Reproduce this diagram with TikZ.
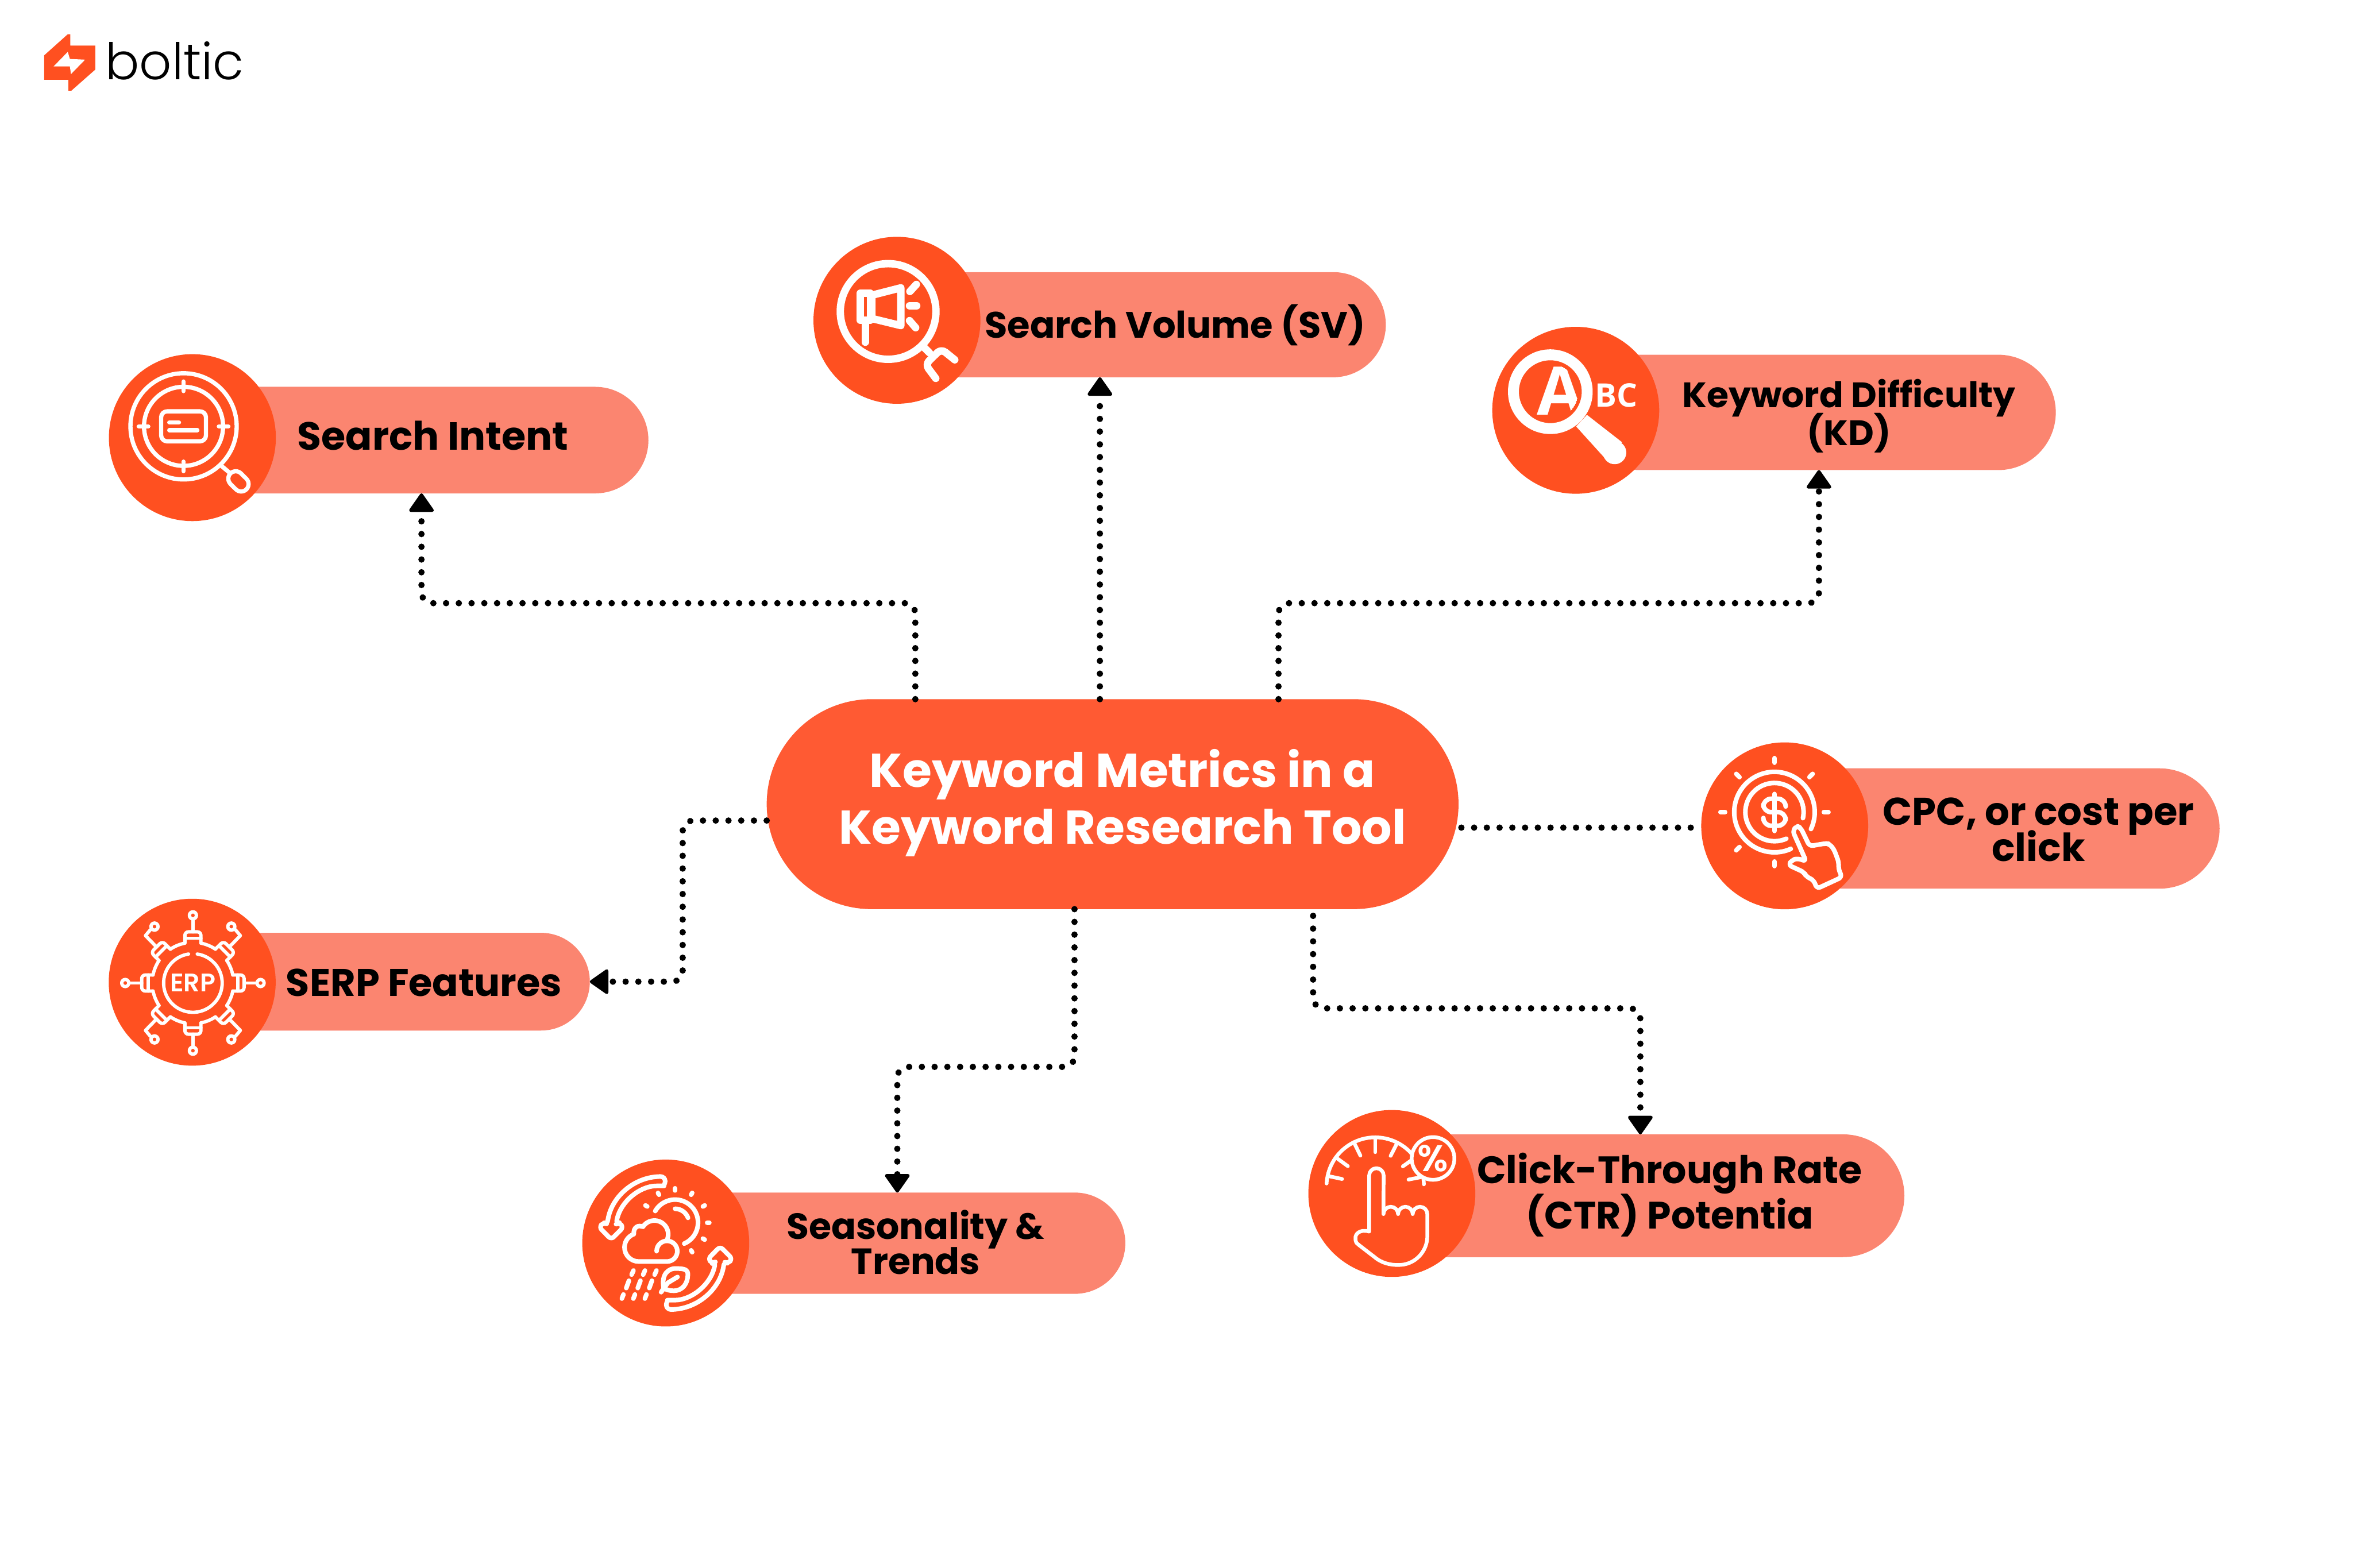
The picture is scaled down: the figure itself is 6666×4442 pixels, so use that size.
\documentclass[tikz,border=0pt]{standalone}
\usepackage{fontspec}
\setmainfont{Poppins}
\newfontfamily\logofont{Poppins Light}
\newfontfamily\erpfont{Poppins SemiBold}
\newfontfamily\abcfont{Open Sans}
\usetikzlibrary{arrows.meta,shapes.misc}
\definecolor{DiscRed}{HTML}{FF5020}
\definecolor{PillRed}{HTML}{FB8570}
\definecolor{HubRed}{HTML}{FF5A33}
\newcommand{\CapFont}[2]{\bfseries\fontsize{#1}{#2}\selectfont\lineskiplimit=-20pt\relax}
\begin{document}
\begin{tikzpicture}[x=0.1pt,y=-0.1pt]
\useasboundingbox (0,0) rectangle (6666,4442);
\tikzset{Pill/.style ={rounded rectangle, fill=PillRed, inner sep=0pt, outer sep=0pt}}
\tikzset{Disc/.style ={circle, fill=DiscRed, minimum size=47.3pt, inner sep=0pt, outer sep=0pt}}
\tikzset{Caption/.style ={align=center, inner sep=0pt, text=black}}
\tikzset{Link/.style ={line width=1.8pt, line cap=round, dash pattern=on 0.01pt off 3.6pt, rounded corners=3pt}}
\tikzset{Tip/.style ={-{Triangle[length=5.6pt,width=7.6pt,round,line width=0.9pt]}}}
\tikzset{IconLine/.style ={white, line width=#1, line cap=round, line join=round}}

\fill[DiscRed] (125,157) -- (192,97) -- (199,97) -- (199,129) -- (270,129) -- (270,197)
  -- (202,257) -- (194,257) -- (194,226) -- (125,226) -- cycle;
\fill[white] (192,147) -- (152,188) -- (198,188) -- (201,210) -- (241,169) -- (198,167) -- cycle;
\node[inner sep=0pt, font=\logofont\fontsize{14.3}{14.3}\selectfont] (Logo) at (495,172) {boltic};

\node[Pill, minimum width=128.6pt, minimum height=30.2pt] (IntentPill) at (1194,1247) {};
\node[Pill, minimum width=162pt, minimum height=29.8pt] (VolumePill) at (3116,920) {};
\node[Pill, minimum width=134.2pt, minimum height=32.7pt] (DifficultyPill) at (5153,1168.5) {};
\node[Pill, minimum width=123.2pt, minimum height=34.1pt] (CostPill) at (5672,2347.5) {};
\node[Pill, minimum width=112.6pt, minimum height=27.7pt] (SerpPill) at (1108,2781.5) {};
\node[Pill, minimum width=129.2pt, minimum height=28.7pt] (SeasonPill) at (2542,3522.5) {};
\node[Pill, minimum width=149.6pt, minimum height=34.8pt] (RatePill) at (4647,3388) {};
\node[rounded rectangle, fill=HubRed, minimum width=196pt, minimum height=59.5pt, inner sep=0pt, outer sep=0pt] (Hub) at (3152,2278.5) {};

\node[Disc] (IntentIcon) at (545,1240) {};
\node[Disc] (VolumeIcon) at (2541,907.5) {};
\node[Disc] (DifficultyIcon) at (4464,1162.5) {};
\node[Disc] (CostIcon) at (5056,2340) {};
\node[Disc] (SerpIcon) at (544.5,2783) {};
\node[Disc] (SeasonIcon) at (1886,3522) {};
\node[Disc] (RateIcon) at (3943,3381.6) {};

\node[Caption, text=white, font=\CapFont{13.43}{16.1}] (HubText) at (3180,2275) {Keyword Metrics in a\\Keyword Research Tool};
\node[Caption, font=\CapFont{11.13}{12}] (IntentText) at (1226,1235) {Search Intent};
\node[Caption, font=\CapFont{10.42}{12}] (VolumeText) at (3329,921) {Search Volume (SV)};
\node[Caption, font=\CapFont{10.03}{10.7}] (DifficultyText) at (5238,1179) {Keyword Difficulty\\(KD)};
\node[Caption, font=\CapFont{10.93}{10.2}] (CostText) at (5775,2351) {CPC, or cost per\\click};
\node[Caption, font=\CapFont{10.9}{12}] (SerpText) at (1201,2785) {SERP Features};
\node[Caption, font=\CapFont{10.3}{9.8}] (SeasonText) at (2594,3520) {Seasonality \&\\Trends};
\node[Caption, font=\CapFont{10.83}{12.8}] (RateText) at (4730,3386) {Click-Through Rate\\(CTR) Potentia};

\draw[Link,Tip] ([xshift=-55.9pt]Hub.north) -- ++(0,-272) -| (IntentPill.south);
\draw[Link,Tip] ([xshift=-3.6pt]Hub.north) -- (VolumePill.south);
\draw[Link,Tip] ([xshift=47pt]Hub.north) -- ++(0,-272) -| (DifficultyPill.south);
\draw[Link] ([shift={(.8pt,-6.65pt)}]Hub.east) -- ([shift={(-2.3pt,-.5pt)}]CostIcon.west);
\draw[Link,Tip] ([yshift=-4.65pt]Hub.west) -- ++(-238,0) |- (SerpPill.east);
\draw[Link,Tip] ([xshift=-10.8pt]Hub.south) -- ++(0,447) -| (SeasonPill.north);
\draw[Link,Tip] ([shift={(56.8pt,-1.9pt)}]Hub.south) -- ++(0,262) -| (RatePill.north);

\begin{scope}[shift={(545,1240)}, IconLine=1.2pt]
\draw (-25,-32) circle[radius=150.5];
\draw (-25,-32) circle[radius=112];
\foreach \a in {0,90,180,270}
  \draw (-25,-32) ++(\a:100) -- ++(\a:27);
\draw[rounded corners=1.7pt] (-88.5,-74.5) rectangle (38.5,10.5);
\draw (-65.4,-43) -- (-38,-43);
\draw (-65.4,-21) -- (14,-21);
\draw (81,79) -- (105,99);
\draw[line width=5.4pt] (122.8,116.3) -- (138.2,131.6);
\draw[DiscRed, line width=3pt] (122.8,116.3) -- (138.2,131.6);
\end{scope}

\begin{scope}[shift={(2541,907.5)}, IconLine=2.1pt]
\draw (-25,-25) circle[radius=135.5];
\draw (-103.5,-77) rectangle (-75.5,0);
\draw (-71,-71) -- (11,-92) -- (11,15) -- (-71,-5) -- cycle;
\draw (-90,0) -- (-90,62);
\draw (55,-101.6) -- (36.7,-81.6);
\draw (35.6,-41) -- (56,-41);
\draw (35.6,1) -- (53,21);
\draw (78.5,78.5) -- (92,92);
\draw[rounded corners=1.5pt] (163.8,112) -- (125.5,81) -- (80.4,125) -- (110,164.6);
\end{scope}

\begin{scope}[shift={(4464,1162.5)}, IconLine=3.1pt]
\draw (-72,-52.7) circle[radius=104.5];
\fill[line width=0pt] (31.8,13) -- (131.3,90.6) -- (85.3,138.8) -- (1.1,45.8) -- cycle;
\fill (110.2,119.8) circle[radius=33];
\begin{scope}
\clip (-72,-52.7) circle[radius=78];
\node[inner sep=0pt, font=\abcfont\bfseries\fontsize{19}{19}\selectfont] (LetterA) at (-45,-55) {A};
\end{scope}
\node[inner sep=0pt, font=\abcfont\bfseries\fontsize{9.2}{9.2}\selectfont] (LettersBC) at (114,-42) {BC};
\end{scope}

\begin{scope}[shift={(5056,2340)}, IconLine=1.3pt]
\draw (-29,-39) ++(66:114) arc[start angle=66, end angle=385, radius=114];
\draw (-29,-39) ++(66:82.5) arc[start angle=66, end angle=372, radius=82.5];
\draw (-29,-90.4) -- (-29,14.5);
\draw[rounded corners=2.2pt] (2.7,-56.8) -- (2.7,-76.8) -- (-60.5,-76.8) -- (-60.5,-38.9) -- (2.7,-38.9) -- (2.7,-0.3) -- (-60.5,-0.3) -- (-60.5,-20);
\foreach \a in {0,90,135,180,225,270,315}
  \draw (-29,-39) ++(\a:140) -- ++(\a:13);
\draw[rounded corners=1pt] (70.4,57.5) -- (45.5,5.9) -- (34,-0.3) -- (22.6,14.5) -- (60.8,100.5) -- (36,92) -- (20.7,97) -- (10.3,110.9) -- (55,131.5) -- (60.8,143.6) -- (81.9,153.9) -- (91.5,178) -- (162.3,145.3) -- (152,121.2) -- (153.5,104) -- (139.3,66) -- (125.9,50.6) -- (114.4,50) -- cycle;
\end{scope}

\begin{scope}[shift={(544.5,2783)}, IconLine=0.95pt]
\begin{scope}[shift={(2,2.3)}]
\draw (0,0) ++(-81.5:83) arc[start angle=-81.5, end angle=261.5, radius=83];
\foreach \a in {0,45,...,315} {
  \begin{scope}[rotate=\a]
  \draw[rounded corners=1pt] (-22.7,-113) -- (-22.7,-145) -- (22.7,-145) -- (22.7,-113);
  \draw (-22.7,-127) -- (22.7,-127);
  \draw (22.7,-113) arc[start angle=-78.6, end angle=-56.3, radius=115];
  \end{scope}
}
\foreach \a in {0,90,180,270} {
  \begin{scope}[rotate=\a]
  \draw (0,-145) -- (0,-181);
  \draw (0,-191.7) circle[radius=10];
  \end{scope}
}
\foreach \sx/\sy in {1/1,-1/1,1/-1,-1/-1} {
  \begin{scope}[xscale=\sx, yscale=\sy]
  \draw (103,-102) -- (134.4,-134.3) -- (120.5,-150.9);
  \draw (108.8,-159.9) circle[radius=10];
  \end{scope}
}
\node[inner sep=0pt, font=\erpfont\fontsize{7.2}{7.2}\selectfont] (LettersErp) at (0,0) {ERP};
\end{scope}
\end{scope}

\begin{scope}[shift={(1886,3522)}, IconLine=1.3pt]
\foreach \a in {0,180}
  \draw[rotate=\a, rounded corners=1pt] (-14.8,-188.4) .. controls (-90,-188) and (-155,-130) .. (-165.6,-53.7) -- (-176.7,-58) -- (-188.7,-44.8) -- (-154.3,-10) -- (-119.8,-44.8) -- (-131.9,-58) -- (-140.5,-53.7) .. controls (-130,-115) and (-75,-162) .. (-14.8,-161.9) arc[start angle=90, end angle=-90, radius=13.25];
\draw (26.5,-58) ++(210:65) arc[start angle=210, end angle=426.6, radius=65];
\draw (26.5,-58) ++(270:39) arc[start angle=270, end angle=340, radius=39];
\foreach \a in {210,240,270,300,330,0,30,60}
  \draw (26.5,-58) ++(\a:91) -- ++(\a:6);
\draw (-25.8,23.2) arc[start angle=180, end angle=450, radius=29.3] -- (-76.8,52.4) arc[start angle=90, end angle=250, radius=40] .. controls (-92,-45) and (-78,-52) .. (-64.7,-46) arc[start angle=213, end angle=375, radius=39] -- (3,-6);
\foreach \d in {0,32.6,65.2} {
  \draw (-91.5+\d,78) -- (-96.6+\d,89.6);
  \draw (-104.3+\d,106.8) -- (-111.9+\d,127.7);
  \draw (-119.8+\d,145.9) -- (-124.3+\d,157.5);
}
\draw (-13.1,139.3) -- (5.9,112.8) -- (33.4,96.2);
\draw (-6.2,126) .. controls (-12,90) and (5,70) .. (33.4,72.3) .. controls (55,73) and (63,76) .. (62.7,90) .. controls (62,115) and (48,135) .. (23,135.3) .. controls (12,136) and (3,132) .. (-4.5,129);
\end{scope}

\begin{scope}[shift={(3943,3381.6)}, IconLine=1.05pt]
\draw (-47,-21) ++(183:138) arc[start angle=183, end angle=318, radius=138];
\draw (-47,-21) ++(350:138) arc[start angle=350, end angle=358, radius=138];
\foreach \a in {192,216,244,270,297,324.5,349}
  \draw (-47,-21) ++(\a:96) -- ++(\a:42);
\draw[fill=DiscRed] (116.7,-99.2) circle[radius=60.5];
\node[inner sep=0pt, font=\erpfont\fontsize{10.5}{10.5}\selectfont] (LetterPercent) at (116.7,-99.2) {\%};
\draw (100.5,58.4) arc[start angle=360, end angle=180, radius=20.7] arc[start angle=360, end angle=180, radius=20.7] arc[start angle=360, end angle=180, radius=20.7]
  -- (-23.2,-51) arc[start angle=360, end angle=180, radius=20.5] -- (-64.2,108)
  .. controls (-90,100) and (-105,115) .. (-103,128) .. controls (-103,140) and (-98,143) .. (-93,146.3)
  .. controls (-75,160) and (-60,172) .. (-49.9,179.4) .. controls (-30,197) and (-5,203) .. (18.9,202.6)
  .. controls (65,203) and (100.5,165) .. (100.5,121.4) -- cycle;
\end{scope}
\end{tikzpicture}
\end{document}
